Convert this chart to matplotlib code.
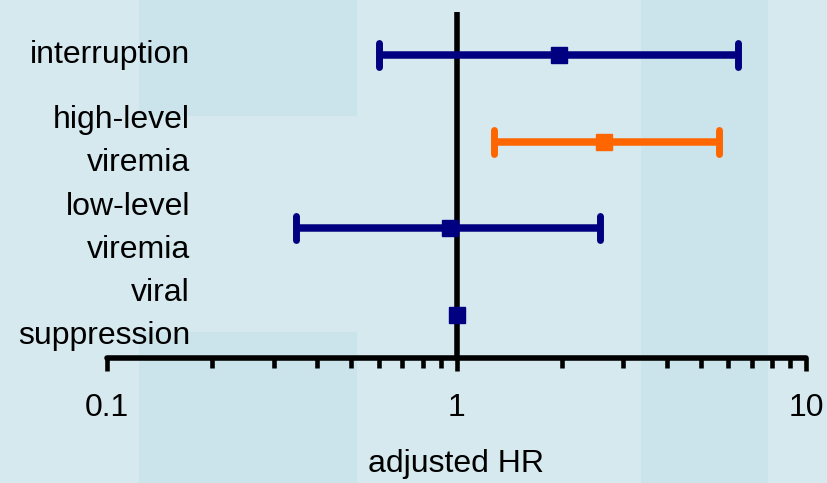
import matplotlib
matplotlib.use("Agg")
import matplotlib.pyplot as plt
from matplotlib.markers import MarkerStyle
from matplotlib.patches import Rectangle
import matplotlib.transforms as mtransforms
import numpy as np

categories = ["interruption", "high-level\nviremia", "low-level\nviremia", "viral\nsuppression"]
hr = [1.97, 2.65, 0.955, 1.0]
lo = [0.60, 1.28, 0.348, 1.0]
hi = [6.37, 5.65, 2.58, 1.0]
colors = ["#000080", "#FF6600", "#000080", "#000080"]
xticks = [0.1, 1, 10]
xticklabels = ["0.1", "1", "10"]
xlabel = "adjusted HR"

plt.rcParams['font.family'] = ['Liberation Sans', 'DejaVu Sans']

W, H = 827, 483
fig = plt.figure(figsize=(W / 100, H / 100), dpi=100)
fig.patch.set_facecolor("#D5E9EF")

# decorative background panels (slide background)
for (x0, y0, x1, y1) in [(139, 0, 357, 116), (139, 332, 357, 483), (641, 0, 768, 483)]:
    r = Rectangle((x0 / W, 1 - y1 / H), (x1 - x0) / W, (y1 - y0) / H,
                  transform=fig.transFigure, facecolor="#CBE3EA",
                  edgecolor="none", zorder=0)
    fig.add_artist(r)

ax = fig.add_axes([107 / W, 1 - 358 / H, (806 - 107) / W, (358 - 12) / H])
ax.set_zorder(2)
ax.set_facecolor("none")
ax.set_xscale("log")
ax.set_xlim(0.1, 10)
ax.set_ylim(0.5, 4.5)

ypos = np.arange(len(categories), 0, -1)

ax.axvline(1, color="black", lw=4.0, zorder=2, solid_capstyle="round")

for y, h, l, u, c in zip(ypos, hr, lo, hi, colors):
    if u > l:
        eb = ax.errorbar([h], [y], xerr=[[h - l], [u - h]], fmt="s", color=c,
                         ms=11, elinewidth=5.4, capsize=8.5, capthick=5.0, zorder=3)
        for cl in eb.lines[1]:
            cl.set_marker(MarkerStyle("|", capstyle="round"))
    else:
        ax.plot([h], [y], "s", color=c, ms=11, zorder=3)

trans = mtransforms.blended_transform_factory(ax.transAxes, ax.transData)
for y, lab in zip(ypos, categories):
    ax.text((190 - 107) / (806 - 107), y, lab, transform=trans, ha="right", va="center",
            fontsize=23, multialignment="right", linespacing=1.55, color="black")

for s in ["left", "right", "top"]:
    ax.spines[s].set_visible(False)
ax.spines["bottom"].set_linewidth(4)
ax.spines["bottom"].set_capstyle("round")
ax.set_yticks([])
ax.set_xticks(xticks)
ax.set_xticklabels(xticklabels, fontsize=23)
ax.tick_params(axis="x", which="major", direction="out", length=9, width=3.3, pad=16)
ax.tick_params(axis="x", which="minor", direction="out", length=7, width=3.3)
ax.set_xlabel(xlabel, fontsize=23, labelpad=19)

fig.savefig("out.png", dpi=100, facecolor=fig.get_facecolor())
